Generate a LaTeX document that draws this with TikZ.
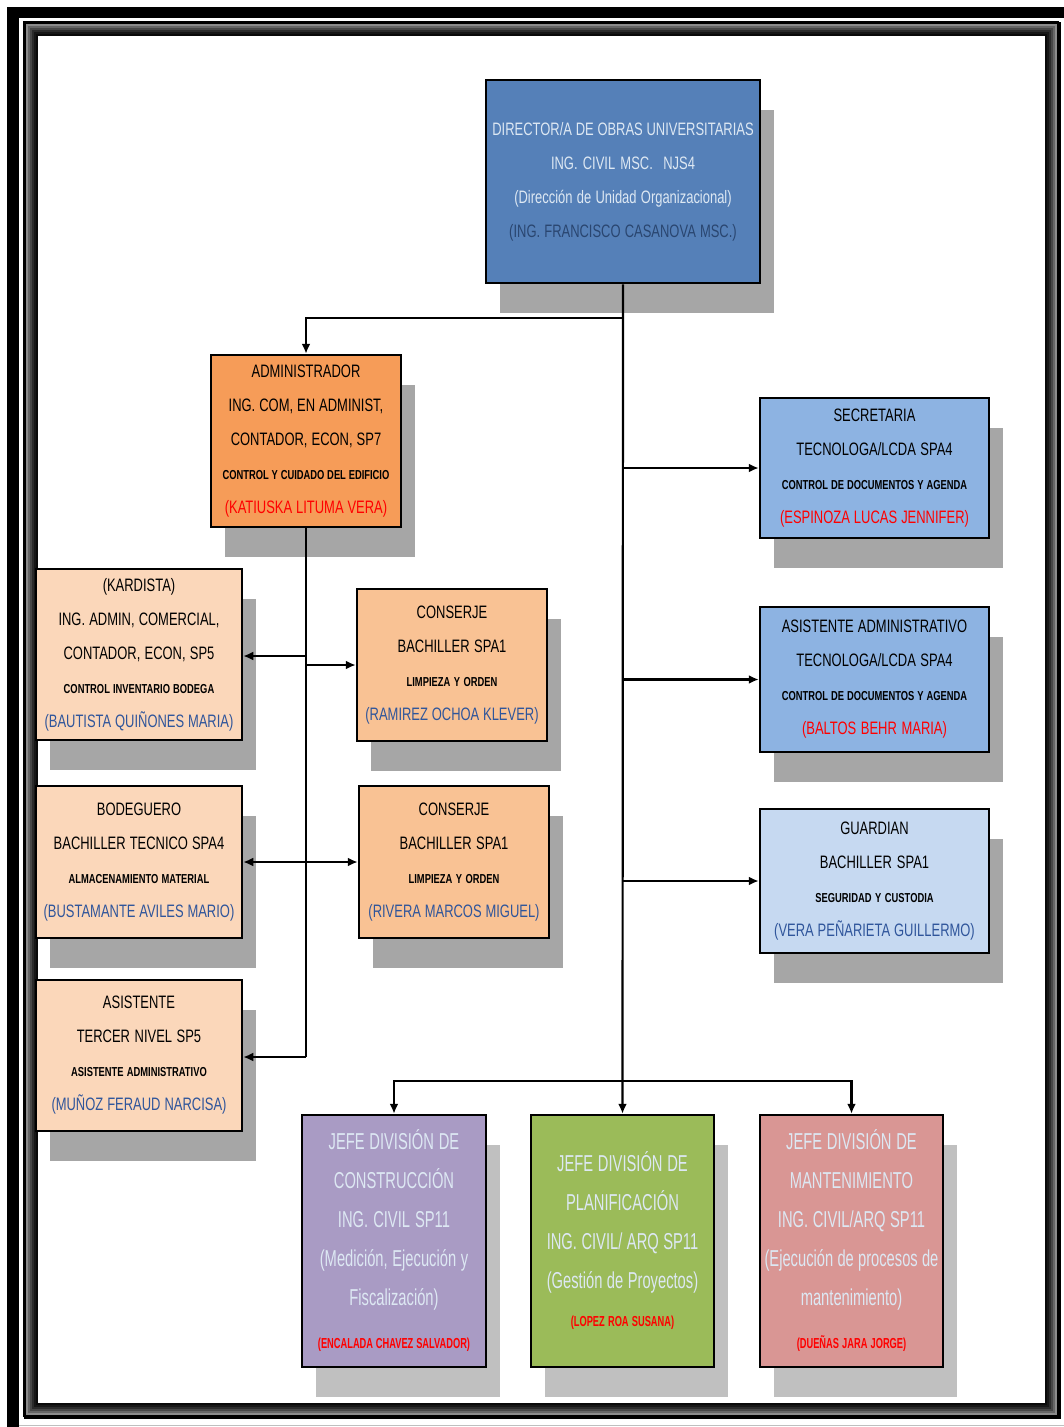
\documentclass[tikz,border=0pt]{standalone}
\usepackage{fontspec}
\setmainfont{Liberation Sans}
\newfontfamily\fa[FakeStretch=0.72]{Liberation Sans}
\newfontfamily\fb[FakeStretch=0.64]{Liberation Sans}
\usetikzlibrary{shadows,arrows.meta}
\definecolor{dirblue}{HTML}{5580B8}
\definecolor{admorange}{HTML}{F69C58}
\definecolor{peach}{HTML}{FBD7BA}
\definecolor{conserje}{HTML}{F9C294}
\definecolor{secblue}{HTML}{8DB3E2}
\definecolor{guardblue}{HTML}{C6D9F1}
\definecolor{consviolet}{HTML}{A99BC4}
\definecolor{plangreen}{HTML}{9BBB59}
\definecolor{mantred}{HTML}{D99694}
\definecolor{shadowA}{HTML}{A6A6A6}
\definecolor{shadowB}{HTML}{C0C0C0}
\definecolor{lighttxt}{HTML}{DDE8F3}
\definecolor{dirdark}{HTML}{2A4670}
\definecolor{nameblue}{HTML}{2F559B}
\definecolor{namered}{HTML}{FF0000}
\newcommand\spA{\spaceskip=0.2em plus 0.05em minus 0.05em\relax\xspaceskip=\spaceskip}
\newcommand\spB{\spaceskip=0.18em plus 0.05em minus 0.05em\relax\xspaceskip=\spaceskip}
\newcommand\sml[1]{{\fontsize{13}{34}\selectfont\bfseries\spA #1}}
\newcommand\nmblue[1]{{\color{nameblue}#1}}
\newcommand\nmred[1]{{\color{namered}#1}}
\newcommand\bnm[1]{{\fontsize{14.5}{39}\selectfont\bfseries\spB\color{namered}#1}}
\begin{document}
\begin{tikzpicture}[x=1pt,y=-1pt,
  box/.style={draw=black, line width=2.5pt, rectangle, inner sep=1pt, align=center,
    drop shadow={shadow xshift=14pt, shadow yshift=-30pt, fill=shadowA, opacity=1}},
  boxb/.style={box, drop shadow={shadow xshift=14pt, shadow yshift=-30pt, fill=shadowB, opacity=1}},
  midtxt/.style={font=\fa\fontsize{18}{34}\selectfont},
  bigtxt/.style={font=\fb\fontsize{23}{39}\selectfont, text=lighttxt},
  conn/.style={line width=2.2pt, draw=black},
  arr/.style={conn, -{Latex[length=10pt,width=9pt]}},
  darr/.style={conn, {Latex[length=10pt,width=9pt]}-{Latex[length=10pt,width=9pt]}}]
\useasboundingbox (0,0) rectangle (1064,1427);
\fill[white] (0,0) rectangle (1064,1427);
% frame
\foreach \o/\g in {3/45,5/60,7/72,9/83,11/91,13/96}{
  \draw[black!\g!white, line width=2.2pt] (24+\o,22+\o) rectangle (1059-\o,1417-\o);
}
\fill[black] (7,7) rectangle (1064,18);
\fill[black] (7,7) rectangle (19,1427);
\draw[line width=3pt] (24,1417) -- (24,22) -- (1059,22);
\draw[line width=4.5pt] (24,1417) -- (1059,1417) -- (1059,22);
\draw[black!25, line width=1pt] (19,1425) -- (1064,1425);
% nodes
\node[box, midtxt, fill=dirblue, text=lighttxt, minimum width=274pt, minimum height=203pt, text width=272pt] (dir) at (623,181.5)
 {\spA DIRECTOR/A DE OBRAS UNIVERSITARIAS\\ ING. CIVIL MSC.~~NJS4\\ (Dirección de Unidad Organizacional)\\ {\color{dirdark}(ING. FRANCISCO CASANOVA MSC.)}};
\node[box, midtxt, fill=admorange, minimum width=190pt, minimum height=172pt, text width=188pt] (adm) at (306,441)
 {\spA ADMINISTRADOR\\ ING. COM, EN ADMINIST,\\ CONTADOR, ECON, SP7\\ \sml{CONTROL Y CUIDADO DEL EDIFICIO}\\ \nmred{(KATIUSKA LITUMA VERA)}};
\node[box, midtxt, fill=peach, minimum width=206pt, minimum height=171pt, text width=204pt] (kar) at (139,654.5)
 {\spA (KARDISTA)\\ ING. ADMIN, COMERCIAL,\\ CONTADOR, ECON, SP5\\ \sml{CONTROL INVENTARIO BODEGA}\\ \nmblue{(BAUTISTA QUIÑONES MARIA)}};
\node[box, midtxt, fill=conserje, minimum width=190pt, minimum height=152pt, text width=188pt] (con1) at (452,665)
 {\spA CONSERJE\\ BACHILLER SPA1\\ \sml{LIMPIEZA Y ORDEN}\\ \nmblue{(RAMIREZ OCHOA KLEVER)}};
\node[box, midtxt, fill=peach, minimum width=206pt, minimum height=152pt, text width=204pt] (bod) at (139,862)
 {\spA BODEGUERO\\ BACHILLER TECNICO SPA4\\ \sml{ALMACENAMIENTO MATERIAL}\\ \nmblue{(BUSTAMANTE AVILES MARIO)}};
\node[box, midtxt, fill=conserje, minimum width=190pt, minimum height=152pt, text width=188pt] (con2) at (454,862)
 {\spA CONSERJE\\ BACHILLER SPA1\\ \sml{LIMPIEZA Y ORDEN}\\ \nmblue{(RIVERA MARCOS MIGUEL)}};
\node[box, midtxt, fill=peach, minimum width=206pt, minimum height=151pt, text width=204pt] (asi) at (139,1055.5)
 {\spA ASISTENTE\\ TERCER NIVEL SP5\\ \sml{ASISTENTE ADMINISTRATIVO}\\ \nmblue{(MUÑOZ FERAUD NARCISA)}};
\node[box, midtxt, fill=secblue, minimum width=229pt, minimum height=140pt, text width=227pt] (sec) at (874.5,468)
 {\spA SECRETARIA\\ TECNOLOGA/LCDA SPA4\\ \sml{CONTROL DE DOCUMENTOS Y AGENDA}\\ \nmred{(ESPINOZA LUCAS JENNIFER)}};
\node[box, midtxt, fill=secblue, minimum width=229pt, minimum height=145pt, text width=227pt] (asa) at (874.5,679.5)
 {\spA ASISTENTE ADMINISTRATIVO\\ TECNOLOGA/LCDA SPA4\\ \sml{CONTROL DE DOCUMENTOS Y AGENDA}\\ \nmred{(BALTOS BEHR MARIA)}};
\node[box, midtxt, fill=guardblue, minimum width=229pt, minimum height=144pt, text width=227pt] (gua) at (874.5,881)
 {\spA GUARDIAN\\ BACHILLER SPA1\\ \sml{SEGURIDAD Y CUSTODIA}\\ \nmblue{(VERA PEÑARIETA GUILLERMO)}};
\node[boxb, bigtxt, fill=consviolet, minimum width=184pt, minimum height=252pt, text width=182pt] (cons) at (394,1241)
 {\spB JEFE DIVISIÓN DE\\ CONSTRUCCIÓN\\ ING. CIVIL SP11\\ (Medición, Ejecución y\\ Fiscalización)\\[4pt] \bnm{(ENCALADA CHAVEZ SALVADOR)}};
\node[boxb, bigtxt, fill=plangreen, minimum width=183pt, minimum height=252pt, text width=181pt] (plan) at (622.5,1241)
 {\spB JEFE DIVISIÓN DE\\ PLANIFICACIÓN\\ ING. CIVIL/ ARQ SP11\\ (Gestión de Proyectos)\\[-1pt] \bnm{(LOPEZ ROA SUSANA)}};
\node[boxb, bigtxt, fill=mantred, minimum width=183pt, minimum height=252pt, text width=181pt] (mant) at (851.5,1241)
 {\spB JEFE DIVISIÓN DE\\ MANTENIMIENTO\\ ING. CIVIL/ARQ SP11\\ (Ejecución de procesos de\\ mantenimiento)\\[4pt] \bnm{(DUEÑAS JARA JORGE)}};
% connectors
\coordinate (j1) at (623,318);
\coordinate (j2) at (623,1081);
\draw[arr] (dir.south) -- (plan.north);
\draw[arr] (j1) -| (adm.north);
\draw[arr] (dir.south |- sec.west) -- (sec.west);
\draw[arr] (dir.south |- asa.west) -- (asa.west);
\draw[arr] (dir.south |- gua.west) -- (gua.west);
\draw[arr] (j2) -| (cons.north);
\draw[arr] (j2) -| (mant.north);
\coordinate (a1) at (306,1057);
\coordinate (a2) at (306,656);
\coordinate (a3) at (306,665);
\draw[conn] (adm.south) -- (a1);
\draw[arr] (a2) -- (a2 -| kar.east);
\draw[arr] (a3) -- (con1.west);
\draw[arr] (a1) -- (a1 -| asi.east);
\draw[darr] (bod.east) -- (con2.west);
\end{tikzpicture}
\end{document}
